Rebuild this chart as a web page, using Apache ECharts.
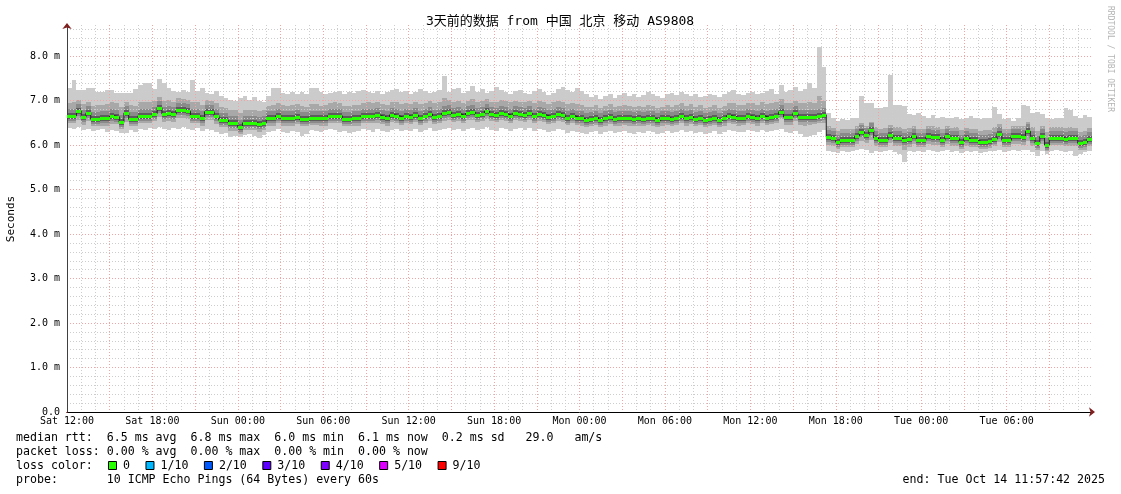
<!DOCTYPE html>
<html><head><meta charset="utf-8">
<script src="https://cdn.jsdelivr.net/npm/echarts@6/dist/echarts.min.js"></script>
<style>html,body{margin:0;padding:0;background:#fff}#c{width:1121px;height:494px}</style>
</head><body><div id="c"></div>
<script>
// ---------- data ----------
const TITLE = '3天前的数据 from 中国 北京 移动 AS9808';
const DAYS = ['Sat', 'Sun', 'Mon', 'Tue'];
const START_HOUR = 12;          // axis starts Sat 12:00
const SPAN_H = 72;              // 3 days shown
const STEP_H = 1 / 3;           // one consolidated sample = 20 min
const Y_MAX = 8.7;              // ms

// median rtt (ms), one value per 20-min step
const medianRtt = [
  6.66,6.66,6.76,6.63,6.72,6.58,6.58,6.60,6.60,6.66,6.64,6.51,
  6.72,6.58,6.58,6.66,6.66,6.66,6.71,6.84,6.70,6.72,6.70,6.79,
  6.79,6.76,6.66,6.66,6.60,6.75,6.75,6.66,6.56,6.56,6.49,6.49,
  6.40,6.50,6.50,6.50,6.48,6.50,6.60,6.60,6.66,6.60,6.60,6.60,
  6.64,6.58,6.58,6.62,6.62,6.60,6.60,6.66,6.66,6.66,6.58,6.58,
  6.60,6.60,6.66,6.66,6.66,6.67,6.64,6.60,6.68,6.66,6.62,6.66,
  6.64,6.68,6.62,6.66,6.70,6.64,6.66,6.72,6.74,6.68,6.70,6.66,
  6.72,6.74,6.68,6.70,6.76,6.70,6.68,6.72,6.70,6.66,6.72,6.70,
  6.68,6.72,6.66,6.70,6.68,6.64,6.66,6.70,6.68,6.62,6.66,6.62,
  6.60,6.56,6.58,6.62,6.56,6.60,6.64,6.58,6.60,6.62,6.60,6.58,
  6.60,6.58,6.62,6.60,6.56,6.60,6.62,6.58,6.62,6.66,6.60,6.64,
  6.58,6.62,6.56,6.58,6.62,6.56,6.60,6.66,6.64,6.60,6.62,6.66,
  6.64,6.60,6.66,6.62,6.64,6.66,6.75,6.63,6.63,6.72,6.64,6.63,
  6.63,6.64,6.66,6.68,6.18,6.15,6.07,6.11,6.11,6.11,6.20,6.30,
  6.22,6.33,6.16,6.11,6.11,6.22,6.15,6.15,6.11,6.13,6.20,6.11,
  6.11,6.20,6.18,6.18,6.11,6.20,6.15,6.15,6.07,6.15,6.11,6.11,
  6.07,6.07,6.09,6.13,6.26,6.11,6.11,6.20,6.20,6.18,6.31,6.15,
  6.04,6.20,6.00,6.17,6.17,6.17,6.13,6.15,6.15,6.04,6.06,6.14
];
// highest ping of each step (ms)
const maxRtt = [
  7.28,7.46,7.24,7.24,7.28,7.28,7.20,7.20,7.24,7.24,7.18,7.17,
  7.17,7.17,7.26,7.34,7.39,7.39,7.26,7.48,7.39,7.28,7.22,7.20,
  7.24,7.20,7.46,7.22,7.28,7.18,7.15,7.22,7.10,7.05,7.01,7.00,
  7.05,7.10,7.02,7.08,7.00,6.98,7.10,7.28,7.28,7.18,7.15,7.20,
  7.16,7.20,7.15,7.28,7.28,7.20,7.15,7.18,7.20,7.22,7.16,7.20,
  7.18,7.22,7.24,7.20,7.18,7.22,7.16,7.20,7.24,7.26,7.20,7.22,
  7.16,7.20,7.26,7.22,7.18,7.20,7.24,7.55,7.20,7.26,7.28,7.18,
  7.22,7.32,7.20,7.26,7.18,7.22,7.30,7.24,7.20,7.16,7.22,7.25,
  7.18,7.14,7.22,7.26,7.20,7.12,7.18,7.26,7.30,7.24,7.20,7.28,
  7.22,7.16,7.08,7.12,7.04,7.10,7.15,7.06,7.12,7.18,7.10,7.14,
  7.08,7.12,7.20,7.16,7.10,7.06,7.14,7.18,7.12,7.20,7.14,7.10,
  7.14,7.08,7.10,7.16,7.12,7.08,7.14,7.20,7.24,7.16,7.12,7.18,
  7.20,7.14,7.18,7.22,7.26,7.16,7.34,7.20,7.24,7.30,7.22,7.26,
  7.39,7.28,8.21,7.76,6.72,6.62,6.55,6.58,6.56,6.60,6.62,7.10,
  6.95,6.95,6.83,6.83,6.85,7.57,6.90,6.90,6.88,6.70,6.68,6.72,
  6.65,6.62,6.68,6.60,6.64,6.62,6.60,6.63,6.58,6.62,6.66,6.60,
  6.58,6.62,6.60,6.85,6.70,6.58,6.62,6.55,6.60,6.90,6.88,6.72,
  6.74,6.70,6.62,6.58,6.62,6.60,6.83,6.78,6.65,6.62,6.68,6.64
];
// lowest ping of each step (ms)
const minRtt = [
  6.38,6.36,6.40,6.34,6.36,6.32,6.34,6.36,6.30,6.34,6.32,6.27,
  6.27,6.34,6.30,6.36,6.34,6.38,6.36,6.40,6.36,6.34,6.38,6.36,
  6.40,6.36,6.34,6.38,6.32,6.36,6.34,6.30,6.26,6.28,6.18,6.20,
  6.18,6.22,6.24,6.20,6.16,6.22,6.30,6.32,6.36,6.30,6.28,6.32,
  6.30,6.20,6.26,6.34,6.32,6.30,6.34,6.36,6.34,6.30,6.32,6.28,
  6.30,6.32,6.36,6.34,6.30,6.36,6.32,6.30,6.34,6.36,6.32,6.34,
  6.32,6.36,6.30,6.34,6.38,6.32,6.34,6.36,6.38,6.34,6.36,6.32,
  6.36,6.38,6.34,6.36,6.40,6.34,6.32,6.38,6.36,6.32,6.36,6.38,
  6.34,6.38,6.32,6.36,6.34,6.30,6.32,6.36,6.34,6.28,6.32,6.30,
  6.28,6.26,6.30,6.32,6.26,6.30,6.32,6.28,6.30,6.32,6.28,6.26,
  6.30,6.28,6.32,6.30,6.26,6.28,6.32,6.28,6.30,6.34,6.30,6.32,
  6.28,6.30,6.26,6.28,6.32,6.24,6.30,6.34,6.32,6.30,6.30,6.34,
  6.32,6.30,6.34,6.30,6.32,6.34,6.36,6.30,6.28,6.32,6.24,6.18,
  6.20,6.22,6.30,6.34,5.86,5.84,5.82,5.86,5.84,5.86,5.88,5.92,
  5.88,5.82,5.86,5.84,5.86,5.88,5.84,5.80,5.62,5.86,5.84,5.86,
  5.84,5.88,5.86,5.84,5.86,5.88,5.84,5.86,5.82,5.86,5.84,5.86,
  5.82,5.84,5.86,5.86,5.90,5.84,5.86,5.88,5.86,5.88,5.90,5.84,
  5.75,5.86,5.80,5.86,5.88,5.86,5.84,5.86,5.75,5.80,5.84,5.86
];
// upper edge of the dense smoke (ms)
const upperRtt = [
  6.95,6.98,7.02,6.92,6.98,6.88,6.90,6.90,6.92,6.96,6.94,6.86,
  6.98,6.90,6.88,6.96,6.98,6.96,7.00,7.08,7.00,7.02,6.98,7.06,
  7.04,7.02,6.98,6.96,6.90,7.02,7.00,6.94,6.86,6.84,6.80,6.78,
  6.72,6.80,6.80,6.78,6.76,6.80,6.88,6.90,6.94,6.90,6.88,6.90,
  6.92,6.88,6.86,6.92,6.92,6.88,6.90,6.94,6.96,6.94,6.88,6.88,
  6.90,6.90,6.94,6.96,6.94,6.96,6.92,6.90,6.96,6.96,6.92,6.94,
  6.92,6.96,6.92,6.94,7.00,6.94,6.96,7.05,7.02,6.98,7.00,6.94,
  7.00,7.04,6.98,7.00,7.04,6.98,6.98,7.02,7.00,6.96,7.00,6.98,
  6.98,7.00,6.94,7.00,6.96,6.92,6.96,7.00,6.98,6.92,6.94,6.92,
  6.90,6.86,6.86,6.90,6.84,6.88,6.92,6.86,6.88,6.90,6.88,6.86,
  6.88,6.86,6.90,6.88,6.84,6.86,6.90,6.86,6.90,6.94,6.88,6.92,
  6.86,6.90,6.84,6.86,6.90,6.84,6.88,6.94,6.94,6.90,6.90,6.94,
  6.94,6.90,6.96,6.92,6.94,6.96,7.04,6.94,6.94,7.00,6.94,6.94,
  6.96,6.94,7.10,7.00,6.42,6.38,6.32,6.36,6.36,6.36,6.42,6.50,
  6.44,6.52,6.40,6.36,6.38,6.46,6.40,6.40,6.36,6.38,6.44,6.36,
  6.36,6.42,6.42,6.40,6.36,6.42,6.38,6.40,6.34,6.38,6.36,6.36,
  6.32,6.34,6.34,6.40,6.48,6.36,6.36,6.42,6.42,6.42,6.52,6.40,
  6.32,6.42,6.30,6.40,6.40,6.40,6.38,6.40,6.38,6.30,6.32,6.38
];
// lower edge of the dense smoke (ms)
const lowerRtt = [
  6.50,6.50,6.56,6.46,6.54,6.42,6.42,6.44,6.44,6.48,6.48,6.36,
  6.52,6.42,6.42,6.50,6.50,6.50,6.54,6.64,6.52,6.54,6.52,6.60,
  6.60,6.58,6.50,6.50,6.44,6.56,6.56,6.48,6.40,6.40,6.32,6.32,
  6.26,6.34,6.34,6.34,6.30,6.34,6.44,6.44,6.50,6.44,6.44,6.44,
  6.48,6.42,6.42,6.46,6.46,6.44,6.44,6.50,6.50,6.50,6.42,6.42,
  6.44,6.44,6.50,6.50,6.50,6.50,6.48,6.44,6.52,6.50,6.46,6.50,
  6.48,6.52,6.46,6.50,6.54,6.48,6.50,6.54,6.56,6.52,6.54,6.50,
  6.56,6.56,6.52,6.54,6.58,6.54,6.52,6.56,6.54,6.50,6.56,6.54,
  6.52,6.56,6.50,6.54,6.52,6.48,6.50,6.54,6.52,6.46,6.50,6.46,
  6.44,6.40,6.42,6.46,6.40,6.44,6.48,6.42,6.44,6.46,6.44,6.42,
  6.44,6.42,6.46,6.44,6.40,6.44,6.46,6.42,6.46,6.50,6.44,6.48,
  6.42,6.46,6.40,6.42,6.46,6.40,6.44,6.50,6.48,6.44,6.46,6.50,
  6.48,6.44,6.50,6.46,6.48,6.50,6.58,6.46,6.46,6.54,6.46,6.44,
  6.46,6.48,6.50,6.50,6.00,5.98,5.92,5.96,5.96,5.96,6.02,6.10,
  6.04,6.12,5.98,5.96,5.96,6.04,5.98,5.98,5.90,5.96,6.02,5.96,
  5.96,6.02,6.00,6.00,5.96,6.02,5.98,5.98,5.92,5.98,5.96,5.96,
  5.92,5.92,5.94,5.98,6.06,5.96,5.96,6.02,6.02,6.00,6.10,5.98,
  5.88,6.02,5.86,6.00,6.00,6.00,5.98,5.98,5.98,5.88,5.90,5.98
];
const statLines = [
  'median rtt:  6.5 ms avg  6.8 ms max  6.0 ms min  6.1 ms now  0.2 ms sd   29.0   am/s',
  'packet loss: 0.00 % avg  0.00 % max  0.00 % min  0.00 % now',
  'loss color:',
  'probe:       10 ICMP Echo Pings (64 Bytes) every 60s'
];
const lossLabels = ['0', '1/10', '2/10', '3/10', '4/10', '5/10', '9/10'];
const lossColors = ['#26ff00', '#00b8ff', '#0059ff', '#5e00ff', '#7e00ff', '#dd00ff', '#ff0000'];
const END_TEXT = 'end: Tue Oct 14 11:57:42 2025';
const WATERMARK = 'RRDTOOL / TOBI OETIKER';
const Y_NAME = 'Seconds';

// ---------- styles ----------
const MONO = "'DejaVu Sans Mono', 'Noto Sans CJK SC', monospace";
const MAJOR = '#f2a4a4';
const MINOR = '#cdcdcd';
const DASH = [1, 2];
const GRID = { left: 67, right: 29, top: 25, bottom: 82 };

const pad = n => (n < 10 ? '0' : '') + n;
function xLabel(v) {
  const h = Math.round(v);
  if (Math.abs(v - h) > 1e-6 || h % 6 !== 0 || h >= SPAN_H) return '';
  const abs = START_HOUR + h;
  return DAYS[Math.floor(abs / 24)] + ' ' + pad(abs % 24) + ':00';
}
function yLabel(v) {
  const r = Math.round(v);
  if (Math.abs(v - r) > 1e-6 || v > Y_MAX - 0.05) return '';
  return r === 0 ? '0.0' : r.toFixed(1) + ' m';
}

const bandData = (lo, hi) => medianRtt.map((_, i) => [i * STEP_H, lo[i], hi[i]]);
const medianData = medianRtt.map((m, i) => [i * STEP_H, m]);
const medianLine = medianData.concat([[medianRtt.length * STEP_H, medianRtt[medianRtt.length - 1]]]);

function bandRender(color) {
  return function (params, api) {
    const t = api.value(0), lo = api.value(1), hi = api.value(2);
    const a = api.coord([t, hi]), b = api.coord([t + STEP_H, lo]);
    const x0 = Math.round(a[0]), x1 = Math.round(b[0]);
    return { type: 'rect', shape: { x: x0, y: Math.round(a[1]), width: x1 - x0, height: Math.round(b[1]) - Math.round(a[1]) },
             style: { fill: color } };
  };
}
function haloRender(params, api) {
  const t = api.value(0), m = api.value(1);
  const a = api.coord([t, m]), b = api.coord([t + STEP_H, m]);
  const x0 = Math.round(a[0]), x1 = Math.round(b[0]), y = Math.round(a[1]);
  return { type: 'group', children: [
    { type: 'rect', shape: { x: x0, y: y - 7, width: x1 - x0, height: 12 }, style: { fill: '#8a8a8a' } },
    { type: 'rect', shape: { x: x0, y: y - 3, width: x1 - x0, height: 6 }, style: { fill: '#5c5c5c' } }
  ] };
}
function greenRender(params, api) {
  const t = api.value(0), m = api.value(1);
  const a = api.coord([t, m]), b = api.coord([t + STEP_H, m]);
  const x0 = Math.round(a[0]), x1 = Math.round(b[0]), y = Math.round(a[1]);
  return { type: 'rect', shape: { x: x0, y: y - 1, width: x1 - x0, height: 3 }, style: { fill: lossColors[0] } };
}

// ---------- graphic (texts) ----------
const LEG_FS = 11.6, CHAR_W = 6.98;
const lineY = [438, 452, 466, 480];
const graphics = [
  { type: 'text', x: 560, y: 22, style: { text: TITLE, font: "13px " + MONO, fill: '#000', align: 'center', verticalAlign: 'middle' } },
  { type: 'text', x: 11, y: 219, rotation: Math.PI / 2, style: { text: Y_NAME, font: "11px " + MONO, fill: '#000', align: 'center', verticalAlign: 'middle' } },
  { type: 'text', x: 1110, y: 59, rotation: -Math.PI / 2, style: { text: WATERMARK, font: "8px " + MONO, fill: '#b4b4b4', align: 'center', verticalAlign: 'middle' } },
  { type: 'text', x: 1105, y: lineY[3], style: { text: END_TEXT, font: LEG_FS + "px " + MONO, fill: '#000', align: 'right', verticalAlign: 'middle' } }
];
statLines.forEach((l, i) => graphics.push({ type: 'text', x: 16, y: lineY[i],
  style: { text: l, font: LEG_FS + "px " + MONO, fill: '#000', align: 'left', verticalAlign: 'middle' } }));
let lx = 108;
lossLabels.forEach((lab, i) => {
  graphics.push({ type: 'rect', shape: { x: lx + 0.5, y: lineY[2] - 4.5, width: 8, height: 8 }, style: { fill: lossColors[i], stroke: '#000', lineWidth: 1 } });
  graphics.push({ type: 'text', x: lx + 15, y: lineY[2], style: { text: lab, font: LEG_FS + "px " + MONO, fill: '#000', align: 'left', verticalAlign: 'middle' } });
  lx = lx + 15 + lab.length * CHAR_W + 15.5;
});

const noParts = { axisLine: { show: false }, axisTick: { show: false }, axisLabel: { show: false } };
const arrowLine = (offset) => ({ show: true, onZero: false, symbol: ['none', 'arrow'], symbolSize: [7, 6], symbolOffset: [0, offset],
  lineStyle: { color: '#7f1f1f', width: 1, type: [0, 4000] } });

const chart = echarts.init(document.getElementById('c'), null, { renderer: 'canvas' });
chart.setOption({
  animation: false,
  backgroundColor: '#fff',
  grid: Object.assign({ outerBoundsMode: 'none', containLabel: false }, GRID),
  xAxis: [
    // hourly minor grid
    Object.assign({ type: 'value', min: 0, max: SPAN_H, interval: 1, z: 3, position: 'bottom',
      splitLine: { show: true, showMaxLine: false, lineStyle: { color: MINOR, width: 1, type: DASH } } }, noParts),
    // 3-hour major grid, axis line and labels
    { type: 'value', min: 0, max: SPAN_H, interval: 3, z: 4, position: 'bottom',
      axisLine: { show: true, onZero: false, lineStyle: { color: '#000', width: 1 } },
      axisTick: { show: false },
      axisLabel: { show: true, formatter: xLabel, margin: 4, color: '#000', fontSize: 10, fontFamily: MONO, hideOverlap: false },
      splitLine: { show: true, showMaxLine: false, lineStyle: { color: MAJOR, width: 1, type: DASH } } },
    { type: 'value', min: 0, max: SPAN_H, position: 'bottom', z: 7, axisLine: arrowLine(3),
      axisTick: { show: false }, axisLabel: { show: false }, splitLine: { show: false } }
  ],
  yAxis: [
    Object.assign({ type: 'value', min: 0, max: Y_MAX, interval: 0.2, z: 3, position: 'left',
      splitLine: { show: true, showMaxLine: false, lineStyle: { color: MINOR, width: 1, type: DASH } } }, noParts),
    { type: 'value', min: 0, max: Y_MAX, interval: 1, z: 4, position: 'left',
      axisLine: { show: true, onZero: false, lineStyle: { color: '#404040', width: 1 } },
      axisTick: { show: false },
      axisLabel: { show: true, formatter: yLabel, margin: 7, color: '#000', fontSize: 10, fontFamily: MONO },
      splitLine: { show: true, showMaxLine: false, lineStyle: { color: MAJOR, width: 1, type: DASH } } },
    { type: 'value', min: 0, max: Y_MAX, position: 'left', z: 7, axisLine: arrowLine(2),
      axisTick: { show: false }, axisLabel: { show: false }, splitLine: { show: false } }
  ],
  graphic: graphics,
  series: [
    { type: 'custom', z: 1, silent: true, renderItem: bandRender('#cbcbcb'), data: bandData(minRtt, maxRtt), encode: { x: 0, y: [1, 2] } },
    { type: 'custom', z: 1, silent: true, renderItem: bandRender('#a8a8a8'), data: bandData(lowerRtt, upperRtt), encode: { x: 0, y: [1, 2] } },
    { type: 'custom', z: 1, silent: true, renderItem: haloRender, data: medianData, encode: { x: 0, y: 1 } },
    { type: 'line', z: 5, silent: true, step: 'end', showSymbol: false, data: medianLine, lineStyle: { color: '#202020', width: 1 } },
    { type: 'custom', z: 6, silent: true, renderItem: greenRender, data: medianData, encode: { x: 0, y: 1 } }
  ]
});
</script></body></html>
